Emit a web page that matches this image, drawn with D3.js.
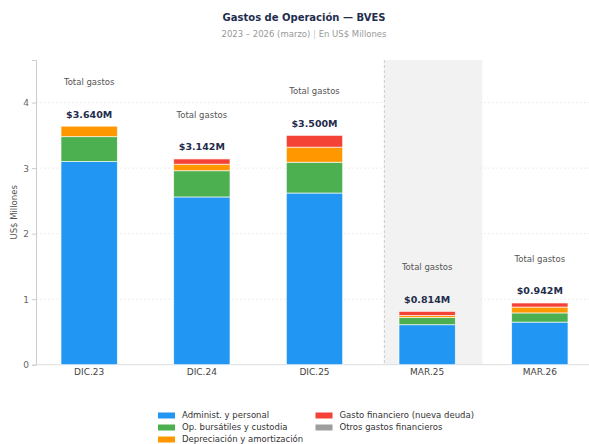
<!DOCTYPE html>
<html>
<head>
<meta charset="utf-8" />
<script src="https://d3js.org/d3.v7.min.js"></script>
<style>
  body { margin: 0; background: #fff; }
  text { font-family: "DejaVu Sans", sans-serif; }
  .tick text { fill: #666; font-size: 9px; }
</style>
</head>
<body>
<svg width="589" height="444"></svg>
<script>
const periods = ["DIC.23", "DIC.24", "DIC.25", "MAR.25", "MAR.26"];
const admin = [3.10, 2.56, 2.62, 0.61, 0.65];
const bursatil = [0.38, 0.40, 0.47, 0.11, 0.14];
const deprec = [0.16, 0.10, 0.23, 0.03, 0.09];
const gastoFin = [0.00, 0.08, 0.18, 0.064, 0.062];
const otrosFin = [0, 0, 0, 0, 0];
const totals = ["$3.640M", "$3.142M", "$3.500M", "$0.814M", "$0.942M"];
const yTicks = [0, 1, 2, 3, 4];

const series = [
  { name: "Administ. y personal", values: admin, color: "#2196F3" },
  { name: "Op. bursátiles y custodia", values: bursatil, color: "#4CAF50" },
  { name: "Depreciación y amortización", values: deprec, color: "#FF9800" },
  { name: "Gasto financiero (nueva deuda)", values: gastoFin, color: "#F44336" },
  { name: "Otros gastos financieros", values: otrosFin, color: "#9E9E9E" }
];

const svg = d3.select("svg");
const W = 589;
const plotLeft = 36, plotTop = 60, plotBottom = 364.7;

const x = d3.scaleBand().domain(periods).range([plotLeft, 593])
  .paddingInner(0.5).paddingOuter(0.222);
const y = d3.scaleLinear().domain([0, 4.65]).range([plotBottom, plotTop]);

// highlighted quarter region
const step = x.step();
const shadeX = x("MAR.25") - step * 0.13;
svg.append("rect")
  .attr("x", shadeX)
  .attr("y", plotTop)
  .attr("width", x.bandwidth() + step * 0.37)
  .attr("height", plotBottom - plotTop)
  .attr("fill", "#f2f2f2");
svg.append("line")
  .attr("x1", shadeX).attr("x2", shadeX)
  .attr("y1", plotTop).attr("y2", plotBottom)
  .attr("stroke", "#ccc").attr("stroke-dasharray", "3,2");

// grid
svg.append("g").selectAll("line")
  .data(yTicks.filter(d => d > 0))
  .join("line")
  .attr("x1", plotLeft).attr("x2", W)
  .attr("y1", d => y(d)).attr("y2", d => y(d))
  .attr("stroke", "#eeeeee").attr("stroke-dasharray", "2,2");

// y axis
const yAxisG = svg.append("g")
  .attr("transform", `translate(${plotLeft},0)`)
  .call(d3.axisLeft(y).tickValues(yTicks).tickFormat(d3.format("d")).tickSize(4).tickPadding(3));
yAxisG.select(".domain").attr("stroke", "#ccc");
yAxisG.selectAll(".tick line").attr("stroke", "#ccc");

svg.append("line")
  .attr("x1", plotLeft).attr("x2", W)
  .attr("y1", plotBottom).attr("y2", plotBottom)
  .attr("stroke", "#ddd");

svg.append("text")
  .attr("transform", `translate(14,${(plotTop + plotBottom) / 2}) rotate(-90)`)
  .attr("text-anchor", "middle")
  .attr("dominant-baseline", "middle")
  .attr("fill", "#555")
  .style("font-size", "8.5px")
  .text("US$ Millones");

// stacked bars
const rows = periods.map((p, i) => {
  const r = { period: p };
  series.forEach(s => r[s.name] = s.values[i]);
  return r;
});
const stack = d3.stack().keys(series.map(s => s.name))(rows);

svg.append("g").selectAll("g")
  .data(stack)
  .join("g")
  .attr("fill", (d, i) => series[i].color)
  .selectAll("rect")
  .data(d => d)
  .join("rect")
  .attr("x", d => x(d.data.period))
  .attr("width", x.bandwidth())
  .attr("y", d => y(d[1]))
  .attr("height", d => Math.max(0, y(d[0]) - y(d[1])))
  .attr("stroke", "#fff")
  .attr("stroke-opacity", d => (d[1] - d[0]) > 0 ? 0.8 : 0)
  .attr("stroke-width", 0.8);

// total labels
periods.forEach((p, i) => {
  const sum = d3.sum(series, s => s.values[i]);
  const cx = x(p) + x.bandwidth() / 2;
  svg.append("text")
    .attr("x", cx).attr("y", y(sum) - 11)
    .attr("text-anchor", "middle")
    .attr("dominant-baseline", "middle")
    .attr("fill", "#1f2d4d")
    .style("font-size", "9.5px")
    .style("font-weight", "bold")
    .text(totals[i]);
  svg.append("text")
    .attr("x", cx).attr("y", y(sum) - 43.5)
    .attr("text-anchor", "middle")
    .attr("dominant-baseline", "middle")
    .attr("fill", "#555")
    .style("font-size", "8.5px")
    .text("Total gastos");
});

// x labels
svg.append("g").selectAll("text")
  .data(periods)
  .join("text")
  .attr("x", d => x(d) + x.bandwidth() / 2)
  .attr("y", 372)
  .attr("text-anchor", "middle")
  .attr("dominant-baseline", "middle")
  .attr("fill", "#444")
  .style("font-size", "9px")
  .text(d => d);

// title
svg.append("text")
  .attr("x", 304).attr("y", 18)
  .attr("text-anchor", "middle")
  .attr("dominant-baseline", "middle")
  .attr("fill", "#1f2d4d")
  .style("font-size", "10px")
  .style("font-weight", "bold")
  .text("Gastos de Operación — BVES");
const sub = svg.append("text")
  .attr("x", 304).attr("y", 34)
  .attr("text-anchor", "middle")
  .attr("dominant-baseline", "middle")
  .attr("fill", "#999")
  .style("font-size", "8.5px");
sub.append("tspan").text("2023 – 2026 (marzo)  ");
sub.append("tspan").attr("fill", "#ccc").text("|");
sub.append("tspan").text("  En US$ Millones");

// legend
const legPos = [[158, 415.5], [158, 427.5], [158, 439.5], [315.5, 415.5], [315.5, 427.5]];
const leg = svg.append("g").selectAll("g")
  .data(series)
  .join("g")
  .attr("transform", (d, i) => `translate(${legPos[i][0]},${legPos[i][1]})`);
leg.append("rect")
  .attr("x", 0).attr("y", -3).attr("width", 17).attr("height", 6)
  .attr("fill", d => d.color);
leg.append("text")
  .attr("x", 24).attr("y", 0)
  .attr("dominant-baseline", "middle")
  .attr("fill", "#333")
  .style("font-size", "8.5px")
  .text(d => d.name);
</script>
</body>
</html>
